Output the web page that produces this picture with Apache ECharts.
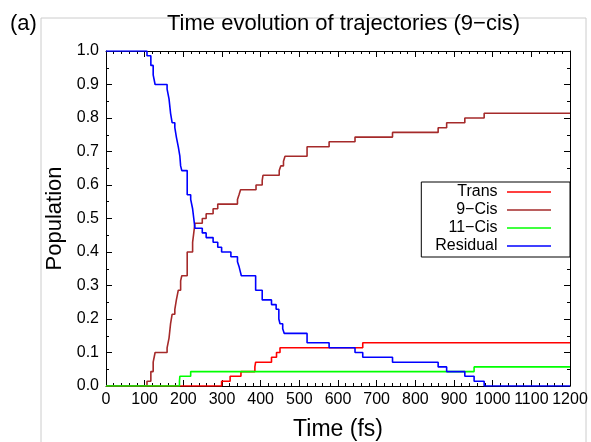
<!DOCTYPE html>
<html>
<head>
<meta charset="utf-8">
<script src="https://cdn.jsdelivr.net/npm/echarts@6/dist/echarts.min.js"></script>
<style>
html,body{margin:0;padding:0;background:#fff;}
#chart{width:591px;height:442px;}
</style>
</head>
<body>
<div id="chart"></div>
<script>
// ---- data (time in fs, population fraction) ----
const seriesNames = ['Trans', '9\u2212Cis', '11\u2212Cis', 'Residual'];

const transT = [0, 299, 321, 349, 385, 387, 428, 441, 450, 664, 1200];
const transV = [0, 0.014, 0.029, 0.043, 0.057, 0.071, 0.086, 0.1, 0.114, 0.129, 0.129];

const cis9T = [0, 106, 116, 122, 127, 158, 163, 167, 171, 178, 182, 187, 193, 196, 210, 224, 227, 230, 249, 259, 277, 289, 340, 344, 348, 388, 404, 406, 448, 452, 459, 463, 520, 577, 644, 741, 859, 881, 928, 978, 1200];
const cis9V = [0, 0.014, 0.043, 0.071, 0.1, 0.114, 0.143, 0.186, 0.214, 0.229, 0.257, 0.286, 0.314, 0.329, 0.4, 0.429, 0.457, 0.486, 0.5, 0.514, 0.529, 0.543, 0.557, 0.571, 0.586, 0.6, 0.614, 0.629, 0.643, 0.657, 0.671, 0.686, 0.714, 0.729, 0.743, 0.757, 0.771, 0.786, 0.8, 0.814, 0.814];

const cis11T = [0, 190, 191, 219, 952, 1200];
const cis11V = [0, 0.014, 0.029, 0.043, 0.057, 0.057];

const residT = [0, 106, 116, 122, 127, 158, 163, 167, 171, 178, 182, 187, 191, 193, 196, 210, 219, 224, 227, 230, 249, 259, 277, 289, 299, 323, 340, 344, 347, 350, 387, 404, 428, 440, 447, 450, 457, 461, 520, 577, 644, 664, 741, 859, 881, 928, 952, 978, 1200];
const residV = [1.0, 0.986, 0.957, 0.929, 0.9, 0.886, 0.857, 0.814, 0.786, 0.771, 0.743, 0.714, 0.686, 0.657, 0.643, 0.571, 0.557, 0.529, 0.5, 0.471, 0.457, 0.443, 0.429, 0.414, 0.4, 0.386, 0.371, 0.357, 0.343, 0.329, 0.286, 0.257, 0.243, 0.229, 0.2, 0.186, 0.171, 0.157, 0.129, 0.114, 0.1, 0.086, 0.071, 0.057, 0.043, 0.029, 0.014, 0, 0];

const xTicks = {min: 0, max: 1200, interval: 100};
const yTicks = {min: 0, max: 1, interval: 0.1};

// ---- chart ----
const FONT = '"Liberation Sans", Arial, sans-serif';
const zip = (t, v) => t.map((x, i) => [x, v[i]]);
const colors = ['#ff0000', '#a52a2a', '#00ff00', '#0000ff'];
const dataSets = [zip(transT, transV), zip(cis9T, cis9V), zip(cis11T, cis11V), zip(residT, residV)];

const axisCommon = {
  axisLine: {show: true, onZero: false, lineStyle: {color: '#000', width: 1}},
  axisTick: {show: true, inside: true, length: 6, lineStyle: {color: '#000'}},
  splitLine: {show: false},
  minorSplitLine: {show: false}
};

const chart = echarts.init(document.getElementById('chart'), null, {renderer: 'canvas'});
chart.setOption({
  animation: false,
  backgroundColor: '#fff',
  title: [
    {text: 'Time evolution of trajectories (9\u2212cis)', left: 167, top: 13,
     textStyle: {fontFamily: FONT, fontSize: 22, fontWeight: 'normal', color: '#000'}, padding: 0},
    {text: '(a)', left: 10, top: 13,
     textStyle: {fontFamily: FONT, fontSize: 22, fontWeight: 'normal', color: '#000'}, padding: 0}
  ],
  graphic: [{
    type: 'rect', shape: {x: 41, y: 18, width: 545, height: 440}, silent: true, z: -1,
    style: {fill: 'none', stroke: '#cccccc', lineWidth: 1}
  }],
  grid: {left: 106, right: 21, top: 51, bottom: 56, containLabel: false, outerBoundsMode: 'none'},
  legend: {
    orient: 'vertical', align: 'right', right: 21, top: 182,
    padding: [2, 19, 3, 14], itemGap: 2, itemWidth: 44, itemHeight: 16,
    borderColor: '#000', borderWidth: 1, backgroundColor: '#fff',
    textStyle: {fontFamily: FONT, fontSize: 16, color: '#000'},
    formatter: n => n + ' ',
    data: seriesNames.map(n => ({name: n, icon: 'path://M0,0L1,0L1,0.035L0,0.035Z'}))
  },
  xAxis: [
    Object.assign({type: 'value', position: 'bottom', min: xTicks.min, max: xTicks.max, interval: xTicks.interval,
      name: 'Time (fs)', nameLocation: 'middle', nameGap: 32,
      nameTextStyle: {fontFamily: FONT, fontSize: 23, color: '#000'},
      axisLabel: {show: true, fontFamily: FONT, fontSize: 16, color: '#000', margin: 6,
        hideOverlap: false, showMinLabel: true, showMaxLabel: true, formatter: v => String(v)},
    }, axisCommon, {minorTick: {show: true, splitNumber: 5, length: 3, lineStyle: {color: '#000'}}}),
    Object.assign({type: 'value', position: 'top', min: xTicks.min, max: xTicks.max, interval: xTicks.interval,
      axisLabel: {show: false}}, axisCommon, {minorTick: {show: true, splitNumber: 5, length: 3, lineStyle: {color: '#000'}}})
  ],
  yAxis: [
    Object.assign({type: 'value', position: 'left', min: yTicks.min, max: yTicks.max, interval: yTicks.interval,
      name: 'Population', nameLocation: 'middle', nameGap: 40,
      nameTextStyle: {fontFamily: FONT, fontSize: 22, color: '#000'},
      axisLabel: {show: true, fontFamily: FONT, fontSize: 16, color: '#000', margin: 7, formatter: v => v.toFixed(1)},
    }, axisCommon, {minorTick: {show: true, splitNumber: 2, length: 3, lineStyle: {color: '#000'}}}),
    Object.assign({type: 'value', position: 'right', min: yTicks.min, max: yTicks.max, interval: yTicks.interval,
      axisLabel: {show: false}}, axisCommon, {minorTick: {show: true, splitNumber: 2, length: 3, lineStyle: {color: '#000'}}})
  ],
  series: seriesNames.map((n, i) => ({
    name: n, type: 'line', step: 'end', data: dataSets[i],
    xAxisIndex: 0, yAxisIndex: 0,
    symbol: 'none', showSymbol: false, clip: true,
    color: colors[i],
    lineStyle: {color: colors[i], width: 1.6}
  }))
});
</script>
</body>
</html>
